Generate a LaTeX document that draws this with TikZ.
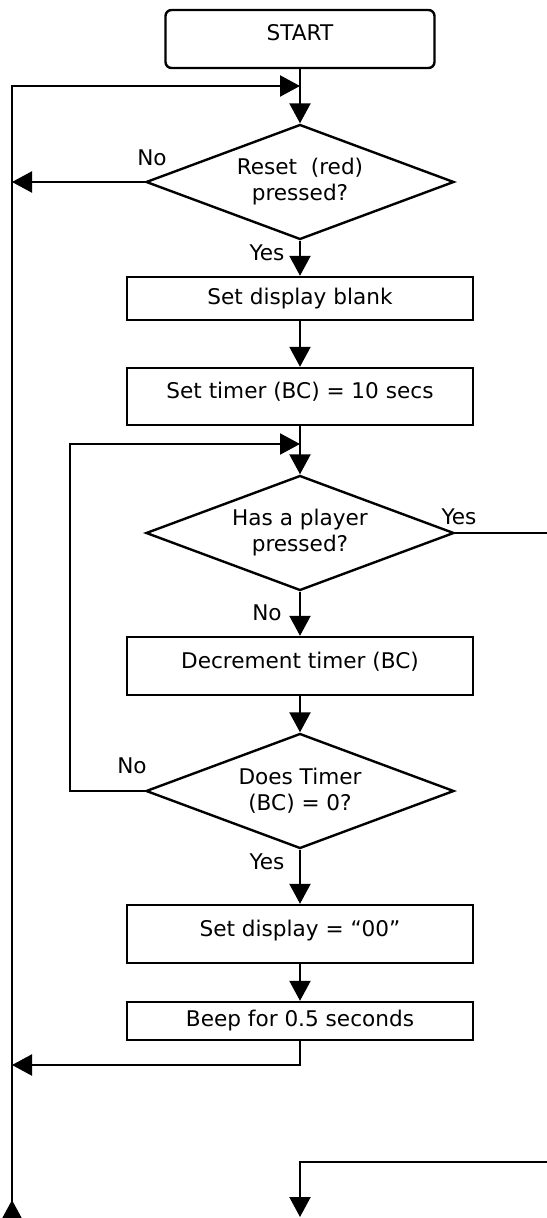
\documentclass[tikz,border=0pt]{standalone}
\usepackage{fontspec}
\setmainfont{DejaVu Sans}
\usetikzlibrary{shapes.geometric,arrows.meta}

\tikzset{
  flow/.style={-{Triangle[length=10pt,width=10.5pt]}},
  box/.style={draw,line width=1.2pt,minimum width=173pt,inner sep=0pt,align=center},
  tallbox/.style={box,text height=8pt,text depth=6pt},
  test/.style={draw,diamond,aspect=2.7,line width=1.2pt,minimum width=154pt,
    minimum height=57.5pt,inner sep=0pt,align=center},
  lbl/.style={inner sep=0pt}
}

\begin{document}
\begin{tikzpicture}[x=0.5pt,y=-0.5pt,line width=1.1pt,font=\fontsize{10.8}{13}\selectfont]
\useasboundingbox (0,0) rectangle (546,1218);

% main column
\node[tallbox,rounded corners=3pt,minimum width=134.5pt,minimum height=29pt] (start) at (300,39) {START};
\node[test] (reset) at (300,182) {Reset\ \ (red)\\pressed?};
\node[box,minimum height=21.5pt] (blank) at (300,298.5) {Set display blank};
\node[tallbox,minimum height=28.5pt] (settimer) at (300,396.5) {Set timer (BC) = 10 secs};
\node[test] (player) at (300,533) {Has a player\\pressed?};
\node[tallbox,minimum height=29pt] (dec) at (300,666) {Decrement timer (BC)};
\node[test] (zero) at (300,791) {Does Timer\\(BC) = 0?};
\node[tallbox,minimum height=29pt] (show) at (300,934) {Set display = “00”};
\node[box,minimum height=19pt] (beep) at (300,1021) {Beep for 0.5 seconds};

% branch labels
\node[lbl] (resetno) at (152,158) {No};
\node[lbl] (resetyes) at (267,253) {Yes};
\node[lbl] (playeryes) at (459,517) {Yes};
\node[lbl] (playerno) at (267,613) {No};
\node[lbl] (zerono) at (132,766) {No};
\node[lbl] (zeroyes) at (267,862) {Yes};

% line ends
\coordinate (offB) at (12,1222);
\coordinate (offTip) at (12,1200);
\coordinate (topL) at (12,86);
\coordinate (join1) at (300,86);
\coordinate (join2) at (300,444);
\coordinate (loopL) at (70,791);
\coordinate (retL) at (12,1065);
\coordinate (exitR) at (550,533);
\coordinate (enterR) at (550,1162);
\coordinate (endB) at (300,1217);

\draw[flow] (offB) -- (offTip);
\draw[flow] (offB) -- (topL) -- (join1);
\draw[flow] (start) -- (reset);
\draw[flow] (reset.west) -- (reset.west -| topL);
\draw[flow] (reset) -- (blank);
\draw[flow] (blank) -- (settimer);
\draw[flow] (settimer) -- (player);
\draw (player.east) -- (exitR);
\draw[flow] (player) -- (dec);
\draw[flow] (dec) -- (zero);
\draw[flow] (zero.west) -- (loopL) |- (join2);
\draw[flow] (zero) -- (show);
\draw[flow] (show) -- (beep);
\draw[flow] (beep.south) |- (retL);
\draw[flow] (enterR) -| (endB);
\end{tikzpicture}
\end{document}
